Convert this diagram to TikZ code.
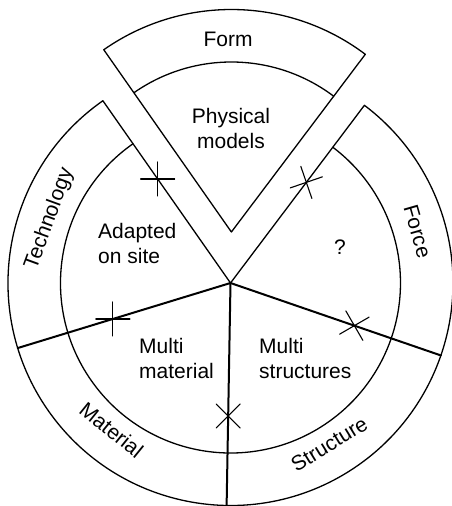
\documentclass[tikz,border=0pt]{standalone}
\usepackage{fontspec}
\setmainfont{Liberation Sans}

\begin{document}
\begin{tikzpicture}[line cap=round,line join=round,x=1pt,y=1pt,
  ring/.style={line width=1.3pt},
  spoke/.style={line width=2pt},
  xcross/.style={line width=1.1pt},
  lbl/.style={font=\fontsize{21}{25}\selectfont,inner sep=0pt}]

\useasboundingbox (-230.5,-223) rectangle (221.5,283);
\coordinate (O) at (0,0);
\coordinate (F) at (89:51pt);
%%% main ring
\draw [ring] (O) -- (125:222.5pt) arc (125:413:222.5pt) -- cycle;
\draw [ring] (125:170pt) arc (125:413:170pt);
%%% spokes
\draw [spoke] (O) -- (197:222.5pt);
\draw [spoke] (O) -- (269:222.5pt);
\draw [spoke] (O) -- (341:222.5pt);
%%% form sector, pulled out
\draw [ring] (F) -- ++(53:222.5pt) arc (53:125:222.5pt) -- cycle;
\draw [ring] (F) ++(53:170pt) arc (53:125:170pt);
%%% crosses
\foreach \a/\r/\t in {125/127/0,53/126/19,197/123/0,341/131/30,269/133/45}
  \draw [xcross,shift={(\a:\r pt)},rotate=\t] (-17,0) -- (17,0) (0,-17) -- (0,17);
%%% labels
\node [lbl] (form) at (-2.5,243.5) {Form};
\node [lbl,align=center] (phys) at (0.5,155) {Physical\\models};
\node [lbl,align=left,anchor=west] (site) at (-132.5,40) {Adapted\\on site};
\node [lbl] (quest) at (109.5,36) {?};
\node [lbl,align=left,anchor=west] (mmat) at (-91.5,-75) {Multi\\material};
\node [lbl,align=left,anchor=west] (mstr) at (28.5,-75) {Multi\\structures};
%%
\node [lbl,rotate=70] (tech) at (160.5:192pt) {Technology};
\node [lbl,rotate=-74] (force) at (15.4:194pt) {Force};
\node [lbl,rotate=-39] (mat) at (231:189pt) {Material};
\node [lbl,rotate=31.5] (struc) at (301.5:189pt) {Structure};
\end{tikzpicture}
\end{document}
